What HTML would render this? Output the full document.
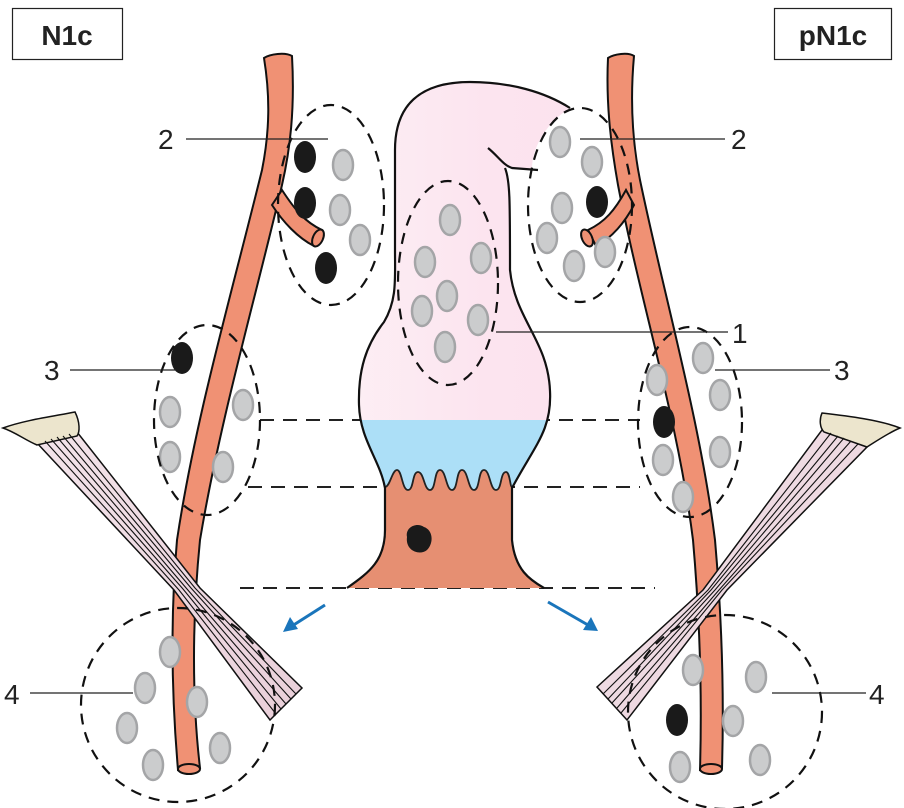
<!DOCTYPE html>
<html><head><meta charset="utf-8"><style>
html,body{margin:0;padding:0;background:#fff}
svg{display:block}
text{font-family:"Liberation Sans",sans-serif}
</style></head><body>
<svg width="904" height="808" viewBox="0 0 904 808" xmlns="http://www.w3.org/2000/svg">
<defs>
<linearGradient id="pk" x1="0" x2="1" y1="0" y2="0">
<stop offset="0" stop-color="#fdf0f5"/><stop offset="0.6" stop-color="#fce4ef"/><stop offset="1" stop-color="#fbe2ee"/>
</linearGradient>
<linearGradient id="mus" x1="0" x2="1" y1="0" y2="1">
<stop offset="0" stop-color="#f3e4ea"/><stop offset="1" stop-color="#e9cfd9"/>
</linearGradient>
<clipPath id="org"><path d="M347,588 C370,572 385,560 385,530 L385,488 C380,460 360,440 359,405 C358,370 366,345 384,322 C397,300 395,280 395,250 L395,150 C395,105 420,82 470,82 C510,82 545,92 570,108 C548,122 532,145 532,170 L512,168 C508,168 505,167 505,168 C510,180 510,200 510,270 C515,320 548,340 550,391 C552,430 535,445 512,488 L512,540 C515,570 530,580 544,588 Z"/></clipPath>
</defs>

<rect x="12.5" y="8.5" width="110" height="51" fill="#fff" stroke="#222" stroke-width="1.2"/>
<text x="67" y="45" font-size="28" font-weight="bold" text-anchor="middle" fill="#222">N1c</text>
<rect x="774.5" y="8.5" width="117" height="51" fill="#fff" stroke="#222" stroke-width="1.2"/>
<text x="833" y="45" font-size="28" font-weight="bold" text-anchor="middle" fill="#222">pN1c</text>

<g stroke="#222" stroke-width="2" stroke-dasharray="14,9" fill="none">
<line x1="260" y1="420" x2="640" y2="420"/>
<line x1="248" y1="487" x2="640" y2="487"/>
<line x1="240" y1="588" x2="655" y2="588"/>
</g>

<!-- organ -->
<g clip-path="url(#org)">
<rect x="330" y="60" width="260" height="360" fill="url(#pk)"/>
<rect x="330" y="420" width="260" height="70" fill="#acdff7"/>
<path d="M330,487 L385,487 C390,487 392,470 397,470 C402,470 402,490 408,490 C414,490 412,472 418,472 C424,472 424,490 430,490 C436,490 434,470 440,470 C446,470 446,490 452,490 C458,490 456,470 462,470 C468,470 468,490 474,490 C480,490 478,470 484,470 C490,470 490,490 496,490 C502,490 500,472 506,472 C510,472 510,487 512,487 L590,487 L590,600 L330,600 Z" fill="#e68f72" stroke="#222" stroke-width="1.8"/>
</g>
<g fill="none" stroke="#111" stroke-width="2.2">
<path d="M347,588 C370,572 385,560 385,530 L385,488 C380,460 360,440 359,405 C358,370 366,345 384,322 C397,300 395,280 395,250 L395,150 C395,105 420,82 470,82 C510,82 545,92 570,108"/>
<path d="M488,148 C498,156 503,165 512,168 L538,170"/>
<path d="M505,168 C510,180 510,200 510,270 C515,320 548,340 550,391 C552,430 535,445 512,488 L512,540 C515,570 530,580 544,588"/>
</g>
<path d="M407,537 C405,527 417,522 424,527 C433,530 434,543 427,550 C420,556 405,551 407,537 Z" fill="#1a1a1a"/>

<!-- vessels -->
<g stroke="#111" stroke-width="2" fill="#f09174">
<path d="M264,58 C270,54 285,52 292,56 C295,110 290,150 282,185 C255,300 220,420 200,540 C192,620 192,700 200,768 L178,770 C172,700 170,620 177,540 C195,420 230,300 262,170 C270,130 270,95 264,58 Z"/>
<path d="M282,190 C295,210 305,222 322,230 L314,246 C298,238 283,222 272,205 Z"/>
<ellipse cx="318" cy="238" rx="5" ry="9" transform="rotate(25 318 238)"/>
<ellipse cx="189" cy="769" rx="11" ry="5"/>
<path d="M608,58 C614,54 628,52 634,56 C630,100 632,140 640,180 C665,300 700,420 715,540 C722,620 724,700 722,768 L700,770 C702,700 700,620 693,540 C678,420 640,300 618,185 C610,140 606,100 608,58 Z"/>
<path d="M626,190 C615,210 605,222 588,230 L596,246 C612,238 625,222 634,205 Z"/>
<ellipse cx="587" cy="238" rx="5" ry="9" transform="rotate(-25 587 238)"/>
<ellipse cx="711" cy="769" rx="11" ry="5"/>
</g>

<!-- muscles -->
<g stroke="#111" stroke-width="1.5">
<path d="M37,443 L77,432 L200,588 L302,688 L270,720 L174,590 Z" fill="url(#mus)"/>
<path d="M3,428 C25,420 55,416 75,412 C80,422 80,432 77,436 L37,445 C25,440 15,432 3,428 Z" fill="#ece5cd"/>
<g fill="none" stroke-width="1.1">
<polyline points="45,441 179,590 276,714"/><polyline points="51,439 183,589 281,709"/><polyline points="57,437 187,589 286,704"/><polyline points="63,436 191,588 291,699"/><polyline points="69,434 195,588 296,694"/>
</g>
<path d="M822,430 L867,447 L727,590 L627,720 L597,687 L703,590 Z" fill="url(#mus)"/>
<path d="M900,428 C880,420 848,416 822,413 C819,420 820,428 824,432 L867,447 C878,440 890,432 900,428 Z" fill="#ece5cd"/>
<g fill="none" stroke-width="1.1">
<polyline points="831,433 708,590 603,694"/><polyline points="838,436 711,590 608,699"/><polyline points="844,438 715,590 612,703"/><polyline points="851,441 719,590 617,708"/><polyline points="858,444 722,590 621,713"/>
</g>
</g>

<!-- nodes -->
<g fill="#cbcccd" stroke="#a4a5a7" stroke-width="2.5">
<ellipse cx="343" cy="165" rx="10" ry="15"/><ellipse cx="340" cy="210" rx="10" ry="15"/><ellipse cx="360" cy="240" rx="10" ry="15"/>
<ellipse cx="170" cy="412" rx="10" ry="15"/><ellipse cx="243" cy="405" rx="10" ry="15"/><ellipse cx="170" cy="457" rx="10" ry="15"/><ellipse cx="223" cy="467" rx="10" ry="15"/>
<ellipse cx="170" cy="652" rx="10" ry="15"/><ellipse cx="145" cy="688" rx="10" ry="15"/><ellipse cx="197" cy="702" rx="10" ry="15"/><ellipse cx="127" cy="728" rx="10" ry="15"/><ellipse cx="220" cy="748" rx="10" ry="15"/><ellipse cx="153" cy="765" rx="10" ry="15"/>
<ellipse cx="560" cy="142" rx="10" ry="15"/><ellipse cx="592" cy="162" rx="10" ry="15"/><ellipse cx="562" cy="208" rx="10" ry="15"/><ellipse cx="547" cy="238" rx="10" ry="15"/><ellipse cx="574" cy="266" rx="10" ry="15"/><ellipse cx="605" cy="252" rx="10" ry="15"/>
<ellipse cx="703" cy="358" rx="10" ry="15"/><ellipse cx="657" cy="380" rx="10" ry="15"/><ellipse cx="720" cy="395" rx="10" ry="15"/><ellipse cx="663" cy="460" rx="10" ry="15"/><ellipse cx="720" cy="452" rx="10" ry="15"/><ellipse cx="683" cy="497" rx="10" ry="15"/>
<ellipse cx="450" cy="220" rx="10" ry="15"/><ellipse cx="425" cy="262" rx="10" ry="15"/><ellipse cx="481" cy="258" rx="10" ry="15"/><ellipse cx="447" cy="296" rx="10" ry="15"/><ellipse cx="422" cy="311" rx="10" ry="15"/><ellipse cx="478" cy="320" rx="10" ry="15"/><ellipse cx="445" cy="347" rx="10" ry="15"/>
<ellipse cx="693" cy="670" rx="10" ry="15"/><ellipse cx="756" cy="677" rx="10" ry="15"/><ellipse cx="733" cy="721" rx="10" ry="15"/><ellipse cx="680" cy="767" rx="10" ry="15"/><ellipse cx="760" cy="760" rx="10" ry="15"/>
</g>
<g fill="#1a1a1a">
<ellipse cx="305" cy="157" rx="11" ry="16"/><ellipse cx="305" cy="203" rx="11" ry="16"/><ellipse cx="326" cy="268" rx="11" ry="16"/>
<ellipse cx="182" cy="358" rx="11" ry="16"/>
<ellipse cx="597" cy="202" rx="11" ry="16"/>
<ellipse cx="664" cy="422" rx="11" ry="16"/>
<ellipse cx="677" cy="720" rx="11" ry="16"/>
</g>

<!-- dashed clusters -->
<g fill="none" stroke="#111" stroke-width="2.2" stroke-dasharray="11,8">
<ellipse cx="331" cy="205" rx="53" ry="100"/>
<ellipse cx="207" cy="420" rx="53" ry="95"/>
<circle cx="178" cy="705" r="97"/>
<ellipse cx="580" cy="205" rx="52" ry="97"/>
<ellipse cx="690" cy="422" rx="52" ry="95"/>
<circle cx="725" cy="712" r="97"/>
<ellipse cx="448" cy="283" rx="50" ry="102"/>
</g>

<g stroke="#1a75bb" stroke-width="3" fill="#1a75bb">
<line x1="325" y1="605" x2="292" y2="626"/>
<path d="M283,632 L290,617 L298,629 Z" stroke="none"/>
<line x1="548" y1="602" x2="588" y2="625"/>
<path d="M598,631 L583,630 L591,617 Z" stroke="none"/>
</g>

<g stroke="#222" stroke-width="1.3">
<line x1="186" y1="139" x2="328" y2="139"/>
<line x1="70" y1="370" x2="176" y2="370"/>
<line x1="30" y1="693" x2="133" y2="693"/>
<line x1="580" y1="139" x2="725" y2="139"/>
<line x1="496" y1="332" x2="728" y2="332"/>
<line x1="715" y1="370" x2="830" y2="370"/>
<line x1="772" y1="693" x2="866" y2="693"/>
</g>
<g font-size="28" fill="#222">
<text x="158" y="149">2</text>
<text x="44" y="380">3</text>
<text x="4" y="704">4</text>
<text x="731" y="149">2</text>
<text x="732" y="343">1</text>
<text x="834" y="380">3</text>
<text x="869" y="704">4</text>
</g>
</svg>
</body></html>
